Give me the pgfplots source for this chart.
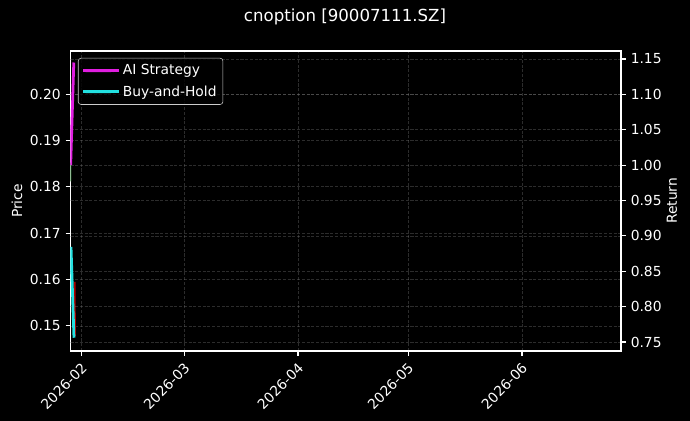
\documentclass[border=0pt]{standalone}
\usepackage{fontspec}
\setmainfont{DejaVu Sans}
\usepackage{pgfplots}
\pgfplotsset{compat=1.18}

\definecolor{aicol}{HTML}{E01EE0}
\definecolor{bhcol}{HTML}{22E0E0}
\definecolor{upcol}{HTML}{2E7D32}
\definecolor{dncol}{HTML}{B00000}
\definecolor{gridcol}{HTML}{808080}

\pgfplotsset{
  darkstyle/.style={
    scale only axis,
    width=396.4bp, height=216bp,
    xmin=28, xmax=178,
    axis line style={white, line width=0.8bp},
    tick style={white, line width=0.8bp},
    tick align=outside,
    major tick length=3.5bp,
    ticklabel style={white, font=\fontsize{10}{12}\selectfont},
    /pgf/number format/assume math mode=true,
    grid=major,
    major grid style={gridcol, dash pattern=on 2.2bp off 1.2bp, line width=0.5bp, opacity=0.35},
    clip=true,
  }
}

\begin{document}
\begin{tikzpicture}
\useasboundingbox[fill=black] (-50.75bp,-50.4bp) rectangle (446.05bp,252.7bp);

% price axis (left)
\begin{axis}[darkstyle,
  ymin=0.1446, ymax=0.2093,
  ytick={0.15,0.16,0.17,0.18,0.19,0.20},
  yticklabel style={/pgf/number format/.cd, fixed, fixed zerofill, precision=2},
  xtick={31,59,90,120,151},
  xticklabels={2026-02,2026-03,2026-04,2026-05,2026-06},
  xticklabel style={rotate=45, anchor=north east, inner sep=1bp, xshift=-2.5bp, yshift=-1.5bp},
  xtick pos=bottom, ytick pos=left,
  ylabel={Price},
  every axis y label/.style={at={(rel axis cs:0,0.5)}, xshift=-38.5bp, rotate=90, anchor=center,
    text=white, font=\fontsize{10}{12}\selectfont},
]
  \addplot[upcol, line width=1bp, opacity=0.8] coordinates {(28.02,0.1812) (28.05,0.1852)};
  \addplot[dncol, line width=1.2bp] coordinates {(29.15,0.1595) (29.25,0.1478)};
\end{axis}

% return axis (right)
\begin{axis}[darkstyle,
  ymin=0.7373, ymax=1.1613,
  ytick={0.75,0.80,0.85,0.90,0.95,1.00,1.05,1.10,1.15},
  yticklabel style={/pgf/number format/.cd, fixed, fixed zerofill, precision=2},
  axis x line=none,
  axis y line*=right,
  xmajorgrids=false,
  ylabel={Return},
  every axis y label/.style={at={(rel axis cs:1,0.5)}, xshift=36.7bp, rotate=90, anchor=center,
    text=white, font=\fontsize{10}{12}\selectfont},
  legend style={at={(0,1)}, anchor=north west, xshift=5.4bp, yshift=-5bp,
    fill=black, fill opacity=0.8, text opacity=1, draw=white!80!black,
    rounded corners=2bp, text=white, font=\fontsize{10}{12}\selectfont,
    row sep=2.2bp, inner sep=2.6bp},
  legend cell align=left,
  legend image code/.code={\fill[#1, draw=none, fill opacity=1] (0bp,-1bp) rectangle (21.6bp,1bp);
    \path (0bp,0bp) -- (25.5bp,0bp);},
]
  \addplot[aicol, line width=2bp] coordinates {(28.05,1.000) (28.9,1.145)};
  \addlegendentry{AI Strategy}
  \addplot[bhcol, line width=2bp] coordinates {(28.14,0.8845) (28.95,0.756)};
  \addlegendentry{Buy-and-Hold}
\end{axis}

\node[white, font=\fontsize{12}{14}\selectfont] at (197.65bp,240.5bp) {cnoption [90007111.SZ]};
\end{tikzpicture}
\end{document}
